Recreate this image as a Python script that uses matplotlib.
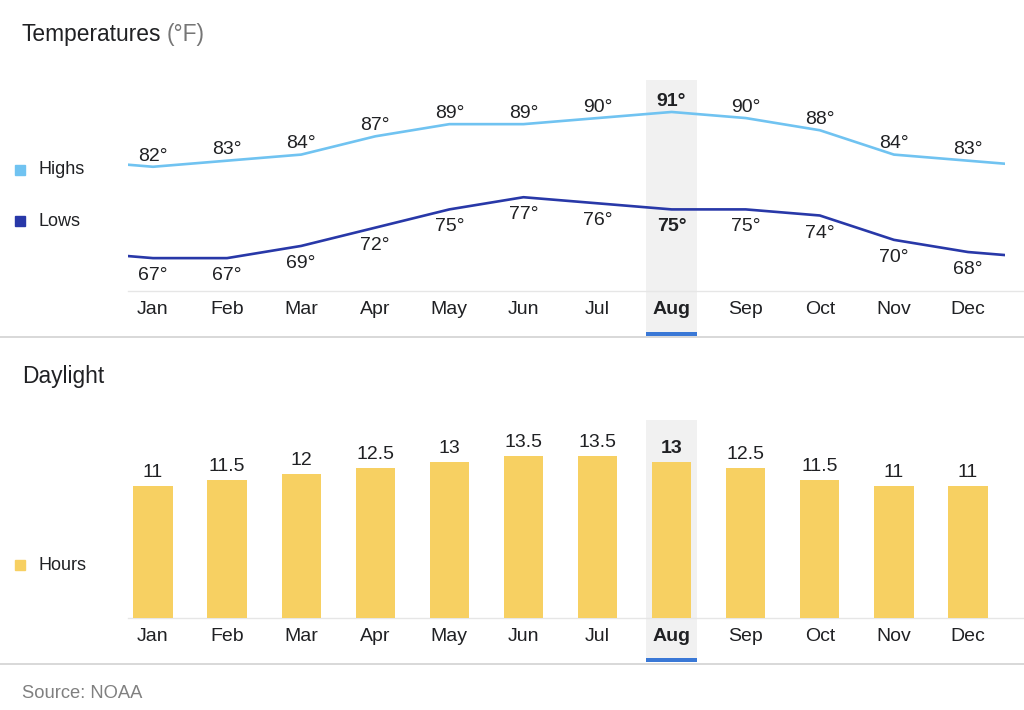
import matplotlib
matplotlib.use("Agg")
import matplotlib.pyplot as plt
from matplotlib.lines import Line2D
from matplotlib.patches import Rectangle
import numpy as np

plt.rcParams['font.family'] = ['Liberation Sans', 'DejaVu Sans']

months = ["Jan", "Feb", "Mar", "Apr", "May", "Jun", "Jul", "Aug", "Sep", "Oct", "Nov", "Dec"]
highs = [82, 83, 84, 87, 89, 89, 90, 91, 90, 88, 84, 83]
lows = [67, 67, 69, 72, 75, 77, 76, 75, 75, 74, 70, 68]
daylight = [11, 11.5, 12, 12.5, 13, 13.5, 13.5, 13, 12.5, 11.5, 11, 11]
daylight_labels = ["11", "11.5", "12", "12.5", "13", "13.5", "13.5", "13", "12.5", "11.5", "11", "11"]
highlight = 7  # Aug

HIGH_C = '#70C3F1'
LOW_C = '#2838A8'
BAR_C = '#F7D062'
BAND_C = '#F1F1F1'
UL_C = '#3A78D6'
TXT = '#202124'
W, H = 1024, 710

fig = plt.figure(figsize=(W / 100, H / 100), dpi=100)

def fy(px):
    return 1 - px / H

x = np.arange(len(months))
XLIM = (-0.337, 11.756)

# ---- Temperatures axes ----
ax1 = fig.add_axes([128 / W, fy(291), 1 - 128 / W, 211 / H])
ax1.set_xlim(*XLIM)
ax1.set_ylim(61.6, 96.25)
# wrap-around lines (Dec before Jan, Jan after Dec)
xw = np.concatenate([[-1], x, [12]])
hw = [highs[-1]] + highs + [highs[0]]
lw_ = [lows[-1]] + lows + [lows[0]]
clip = Rectangle((XLIM[0], 0), 11.5 - XLIM[0], 200, transform=ax1.transData)
l1, = ax1.plot(xw, hw, color=HIGH_C, lw=1.9, solid_capstyle='butt', zorder=3)
l2, = ax1.plot(xw, lw_, color=LOW_C, lw=1.9, solid_capstyle='butt', zorder=3)
l1.set_clip_path(clip)
l2.set_clip_path(clip)

VAL_FS = 14
for i, (h, l) in enumerate(zip(highs, lows)):
    fw = 'bold' if i == highlight else 'normal'
    ax1.annotate(f"{h}°", (i, h), xytext=(0, 4.5), textcoords='offset points',
                 ha='center', va='baseline', fontsize=VAL_FS, color=TXT, fontweight=fw)
    ax1.annotate(f"{l}°", (i, l), xytext=(0, -6.5), textcoords='offset points',
                 ha='center', va='top', fontsize=VAL_FS, color=TXT, fontweight=fw)

# ---- Daylight axes ----
ax2 = fig.add_axes([128 / W, fy(618), 1 - 128 / W, 198 / H])
ax2.set_xlim(*XLIM)
ax2.set_ylim(0, 16.5)
ax2.bar(x, daylight, width=0.53, color=BAR_C, zorder=3)
for i, (v, s) in enumerate(zip(daylight, daylight_labels)):
    fw = 'bold' if i == highlight else 'normal'
    ax2.annotate(s, (i, v), xytext=(0, 6.3), textcoords='offset points',
                 ha='center', va='baseline', fontsize=VAL_FS, color=TXT, fontweight=fw)

for ax, top_px, base_px, ul_px in [(ax1, 80, 291, 336), (ax2, 420, 618, 662)]:
    hpx = base_px - top_px
    ax.axvspan(highlight - 0.345, highlight + 0.345, ymin=-(ul_px - base_px) / hpx, ymax=1,
               color=BAND_C, zorder=0, clip_on=False, lw=0)
    ax.axvspan(highlight - 0.345, highlight + 0.345, ymin=-(ul_px - base_px) / hpx,
               ymax=-(ul_px - 4 - base_px) / hpx, color=UL_C, zorder=1, clip_on=False, lw=0)
    ax.set_xticks(x)
    ax.set_xticklabels(months, fontsize=14, color=TXT)
    ax.get_xticklabels()[highlight].set_fontweight('bold')
    ax.tick_params(axis='x', length=0, pad=7.5)
    ax.set_yticks([])
    for s in ['top', 'left', 'right']:
        ax.spines[s].set_visible(False)
    ax.spines['bottom'].set_color('#e6e6e6')
    ax.spines['bottom'].set_linewidth(1.0)
    ax.patch.set_alpha(0)

# ---- Titles ----
t = fig.text(22 / W, fy(34), "Temperatures", fontsize=16.4, color=TXT, va='center', ha='left')
fig.canvas.draw()
bb = t.get_window_extent()
fig.text(bb.x1 / W + 5 / W, fy(34), "(°F)", fontsize=16.4, color='#767676', va='center', ha='left')
fig.text(22 / W, fy(377), "Daylight", fontsize=16.4, color=TXT, va='center', ha='left')
fig.text(22 / W, fy(693), "Source: NOAA", fontsize=13.2, color='#808080', va='center', ha='left')

# ---- Legends ----
for label, color, ypx in [("Highs", HIGH_C, 170), ("Lows", LOW_C, 221), ("Hours", BAR_C, 565)]:
    fig.add_artist(Rectangle((15 / W, fy(ypx + 5)), 10 / W, 10 / H, color=color,
                             transform=fig.transFigure))
    fig.text(39 / W, fy(ypx), label, fontsize=13, color=TXT, va='center', ha='left')

# ---- Separators ----
for ypx in (337.5, 663.5):
    fig.add_artist(Line2D([0, 1], [fy(ypx)] * 2, color='#d6d6d6', lw=1.3,
                          transform=fig.transFigure))

fig.savefig("out.png", dpi=100)
